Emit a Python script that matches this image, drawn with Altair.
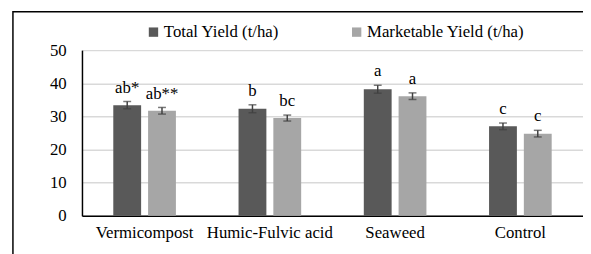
import altair as alt
import pandas as pd

categories = ["Vermicompost", "Humic-Fulvic acid", "Seaweed", "Control"]
series = ["Total Yield (t/ha)", "Marketable Yield (t/ha)"]
total = [33.4, 32.3, 38.2, 27.0]
total_err = [1.1, 1.2, 1.2, 1.0]
market = [31.7, 29.5, 36.1, 24.8]
market_err = [1.0, 0.9, 1.0, 1.0]
total_letters = ["ab*", "b", "a", "c"]
market_letters = ["ab**", "bc", "a", "c"]
y_ticks = [0, 10, 20, 30, 40, 50]

rows = []
for i, c in enumerate(categories):
    rows.append(dict(cat=c, s=series[0], v=total[i], e=total_err[i], lab=total_letters[i]))
    rows.append(dict(cat=c, s=series[1], v=market[i], e=market_err[i], lab=market_letters[i]))
df = pd.DataFrame(rows)
df["lo"] = df["v"] - df["e"]
df["hi"] = df["v"] + df["e"]

W, H = 508, 168
FONT = "Liberation Serif"
FS = 17

xscale = alt.Scale(domain=categories, paddingInner=0.5, paddingOuter=0.25)
yscale = alt.Scale(domain=[0, 50], nice=False)
xaxis = alt.Axis(labelAngle=0, ticks=False, domain=True, domainColor="#000000", domainWidth=1.5,
                 grid=False, labelFontSize=FS, labelColor="black", labelPadding=9, labelFont=FONT)
yaxis = alt.Axis(values=y_ticks, ticks=False, domain=True, domainColor="#000000", domainWidth=1.5,
                 grid=True, gridColor="#d9d9d9", gridWidth=1.5,
                 labelOverlap=False, labelFontSize=FS, labelColor="black",
                 labelPadding=16, labelFont=FONT)


def X():
    return alt.X("cat:N", sort=categories, title=None, scale=xscale, axis=xaxis)


def Y(f):
    return alt.Y(f, title=None, scale=yscale, axis=yaxis)


xo = alt.XOffset("s:N", sort=series, scale=alt.Scale(domain=series, paddingInner=0.2, paddingOuter=0))

base = alt.Chart(df)

bars = base.mark_bar().encode(
    x=X(), xOffset=xo, y=Y("v:Q"),
    color=alt.Color("s:N", sort=series, title=None,
                    scale=alt.Scale(domain=series, range=["#595959", "#a6a6a6"]),
                    legend=alt.Legend(orient="none", legendX=64, legendY=-27, direction="horizontal",
                                      symbolType="square", symbolSize=90, symbolStrokeWidth=0,
                                      labelFontSize=FS, labelFont=FONT, labelColor="black",
                                      columnPadding=70, labelOffset=2)),
)

rules = base.mark_rule(color="#404040", strokeWidth=1.5).encode(
    x=X(), xOffset=xo, y=Y("lo:Q"), y2="hi:Q")
caps_hi = base.mark_tick(color="#404040", size=8, thickness=1.5).encode(
    x=X(), xOffset=xo, y=Y("hi:Q"))
caps_lo = base.mark_tick(color="#404040", size=8, thickness=1.5).encode(
    x=X(), xOffset=xo, y=Y("lo:Q"))
labels = base.mark_text(dy=-9, baseline="alphabetic", fontSize=FS, font=FONT, color="black").encode(
    x=X(), xOffset=xo, y=Y("hi:Q"), text="lab:N")

frame = alt.Chart(pd.DataFrame({"k": [0]})).mark_rect(
    fill="transparent", stroke="#000000", strokeWidth=1.5).encode(
    x=alt.value(-70), x2=alt.value(W + 30), y=alt.value(-39), y2=alt.value(H + 60))

chart = alt.layer(frame, bars, rules, caps_hi, caps_lo, labels).properties(
    width=W, height=H,
    autosize=alt.AutoSizeParams(type="none"),
    padding={"left": 75, "top": 41, "right": 0, "bottom": 37},
).configure(font=FONT).configure_view(strokeWidth=0)

chart.save("out.html", embed_options={"renderer": "svg", "actions": False})
